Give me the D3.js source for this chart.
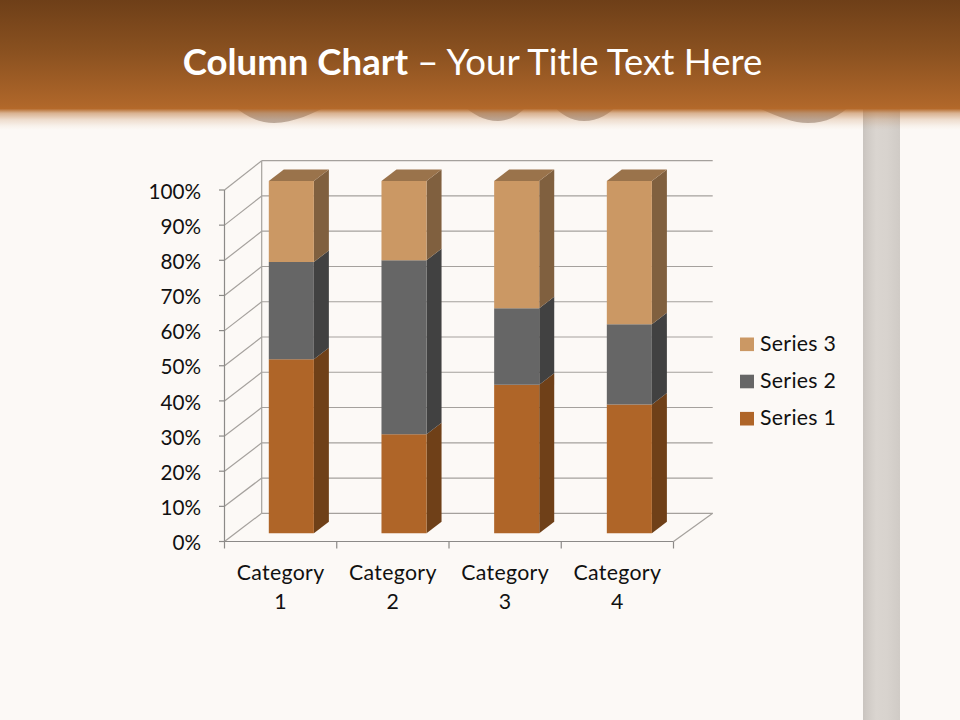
<!DOCTYPE html>
<html><head><meta charset="utf-8">
<script src="https://cdn.jsdelivr.net/npm/d3@7/dist/d3.min.js"></script>
<style>html,body{margin:0;padding:0;background:#fcf9f6}svg{display:block}</style>
</head><body><svg id="c" width="960" height="720"></svg>
<script>
const categories = ["Category 1","Category 2","Category 3","Category 4"];
const series1 = [4.3,2.5,3.5,4.5];
const series2 = [2.4,4.4,1.8,2.8];
const series3 = [2,2,3,5];
const seriesNames = ["Series 1","Series 2","Series 3"];
const tickValues = [0,.1,.2,.3,.4,.5,.6,.7,.8,.9,1];
const frontColors = ["#af6528","#666666","#cb9864"];
const sideColors = ["#6f4018","#414141","#80603f"];
const topColors = ["#8b5a2c","#555555","#9a734b"];

const font = "Lato, Carlito, sans-serif";
const svg = d3.select("#c");
const defs = svg.append("defs");

const W=960,H=720;
svg.append("rect").attr("width",W).attr("height",H).attr("fill","#fcf9f6");

// pillar
const pg = defs.append("linearGradient").attr("id","pillar");
[[0,"#c9c4bf"],[.12,"#d0cbc6"],[.35,"#dad5d0"],[.65,"#d8d3ce"],[1,"#d0cbc6"]].forEach(s=>pg.append("stop").attr("offset",s[0]).attr("stop-color",s[1]));
svg.append("rect").attr("x",863).attr("y",100).attr("width",37).attr("height",620).attr("fill","url(#pillar)");

// scallops under the fading header
["M232,104 C245,117 260,123 274,123 C294,123 313,113 332,104 Z",
 "M462,104 C472,114 484,121 498,121 C510,121 520,114 529,104 Z",
 "M552,104 C560,114 571,121 584,121 C598,121 610,114 618,104 Z",
 "M750,104 C772,114 790,123 808,123 C826,123 840,116 852,104 Z"].forEach(p=>{
 svg.append("path").attr("d",p).attr("fill","#bdb2aa");
});

// header
const hg = defs.append("linearGradient").attr("id","head").attr("x1",0).attr("x2",0).attr("y1",0).attr("y2",1);
[[0,"#6e3f18",1],[.4,"#8a5120",1],[.815,"#b0672a",1],[.835,"#b4692a",1],[.87,"#b4692a",.5],[.92,"#b4692a",.2],[.97,"#b4692a",.05],[1,"#b4692a",0]].forEach(s=>hg.append("stop").attr("offset",s[0]).attr("stop-color",s[1]).attr("stop-opacity",s[2]));
svg.append("rect").attr("width",W).attr("height",130).attr("fill","url(#head)");

const title = svg.append("text").attr("x",472.5).attr("y",75).attr("text-anchor","middle").attr("fill","#fff").attr("font-family",font).attr("font-size",36.6);
title.append("tspan").attr("font-weight",700).text("Column Chart");
title.append("tspan").attr("font-weight",400).text(" – Your Title Text Here");

// 3D geometry
const xFront = d3.scaleBand().domain(categories).range([224.5,673.5]);
const xBack = d3.scaleLinear().domain([0,1]).range([261.7,712.7]);
const barBand = d3.scaleBand().domain(categories).range([235,685.7]).paddingInner(0.6).paddingOuter(0.3);
const yFront = d3.scaleLinear().domain([0,1]).range([541.5,190]);
const yBack = d3.scaleLinear().domain([0,1]).range([513.3,160.7]);
const yBar = d3.scaleLinear().domain([0,1]).range([533.3,181]);
const sideDX=15, sideDY=-11.5;

const g = svg.append("g");
const gridC="#a5a19d", axisC="#8c8a88";
const labelStyle = s=>s.attr("font-family",font).attr("font-size",21.3).attr("letter-spacing",0.3).attr("fill","#111");
tickValues.forEach(t=>{
 g.append("line").attr("x1",224.5).attr("x2",xBack(0)).attr("y1",yFront(t)).attr("y2",yBack(t)).attr("stroke",gridC).attr("stroke-width",1.2);
 g.append("line").attr("x1",xBack(0)).attr("x2",xBack(1)).attr("y1",yBack(t)).attr("y2",yBack(t)).attr("stroke",gridC).attr("stroke-width",1.2);
 g.append("line").attr("x1",219).attr("x2",224.5).attr("y1",yFront(t)).attr("y2",yFront(t)).attr("stroke",axisC).attr("stroke-width",1.2);
 g.append("text").attr("x",201).attr("y",yFront(t)+8.6).attr("text-anchor","end").attr("font-family",font).attr("font-size",20.7).attr("fill","#111").text(d3.format(".0%")(t));
});
g.append("line").attr("x1",xBack(0)).attr("x2",xBack(0)).attr("y1",yBack(0)).attr("y2",yBack(1)).attr("stroke",gridC).attr("stroke-width",1.2);
g.append("line").attr("x1",224.5).attr("x2",224.5).attr("y1",yFront(0)).attr("y2",yFront(1)).attr("stroke",axisC).attr("stroke-width",1.2);
g.append("line").attr("x1",224.5).attr("x2",673.5).attr("y1",yFront(0)).attr("y2",yFront(0)).attr("stroke",axisC).attr("stroke-width",1.2);
g.append("line").attr("x1",673.5).attr("x2",xBack(1)).attr("y1",yFront(0)).attr("y2",yBack(0)).attr("stroke",gridC).attr("stroke-width",1.2);
xFront.domain().concat(["end"]).forEach((c,i)=>{
 const x = i<4?xFront(c):673.5;
 g.append("line").attr("x1",x).attr("x2",x).attr("y1",yFront(0)).attr("y2",yFront(0)+7).attr("stroke",axisC).attr("stroke-width",1.2);
});

// stacked bars
const rows = categories.map((c,i)=>({c,s0:series1[i],s1:series2[i],s2:series3[i]}));
const stack = d3.stack().keys(["s0","s1","s2"]).offset(d3.stackOffsetExpand)(rows);
const poly = (pts,fill)=>g.append("polygon").attr("points",pts.map(p=>p.join(",")).join(" ")).attr("fill",fill);
stack.forEach((layer,k)=>{
 layer.forEach(d=>{
  const x0=barBand(d.data.c), x1=x0+barBand.bandwidth(), yb=yBar(d[0]), yt=yBar(d[1]);
  poly([[x1,yb],[x1+sideDX,yb+sideDY],[x1+sideDX,yt+sideDY],[x1,yt]],sideColors[k]);
  poly([[x0,yb],[x1,yb],[x1,yt],[x0,yt]],frontColors[k]);
  if(k===2) poly([[x0,yt],[x1,yt],[x1+sideDX,yt+sideDY],[x0+sideDX,yt+sideDY]],topColors[k]);
 });
});

// category labels
categories.forEach(c=>{
 const cx = xFront(c)+xFront.bandwidth()/2;
 c.split(" ").forEach((p,i)=>g.append("text").attr("x",cx).attr("y",580+i*28.5).attr("text-anchor","middle").call(labelStyle).text(p));
});

// legend
const legY = d3.scalePoint().domain(["Series 3","Series 2","Series 1"]).range([344.3,418.7]);
seriesNames.forEach((n,i)=>{
 g.append("rect").attr("x",740).attr("y",legY(n)-6.8).attr("width",14).attr("height",13.6).attr("fill",frontColors[i]);
 g.append("text").attr("x",760).attr("y",legY(n)+6.5).call(labelStyle).text(n);
});
</script></body></html>
